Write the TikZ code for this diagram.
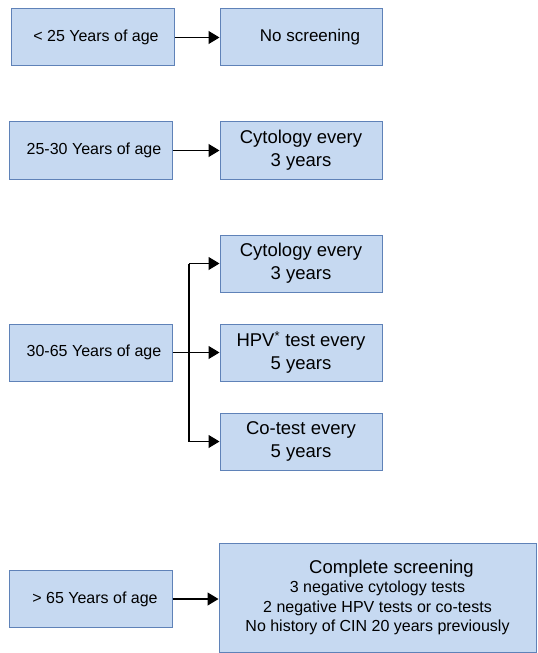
\documentclass[tikz,border=0pt]{standalone}
\usepackage{fontspec}
\setmainfont{Liberation Sans}
\usetikzlibrary{arrows.meta}
\definecolor{boxfill}{HTML}{C6D9F1}
\definecolor{boxdraw}{HTML}{5F82B8}
\tikzset{
  agebox/.style={draw=boxdraw, fill=boxfill, line width=1bp, minimum width=162bp, minimum height=57bp, inner sep=0pt, align=center, font=\fontsize{16bp}{19bp}\selectfont},
  recbox/.style={draw=boxdraw, fill=boxfill, line width=1bp, minimum width=162bp, minimum height=57bp, inner sep=0pt, align=center, font=\fontsize{18.5bp}{23bp}\selectfont},
  flow/.style={line width=1.2bp, -{Triangle[length=11bp,width=13bp]}},
  flowline/.style={line width=1.2bp}
}
\begin{document}
\begin{tikzpicture}[x=1bp,y=-1bp]
\useasboundingbox (0,0) rectangle (538,653);
% left column
\node[agebox] (a1) at (93,37.5) {\hspace*{6bp}< 25 Years of age};
\node[agebox] (a2) at (91,150.5) {\hspace*{6bp}25-30 Years of age};
\node[agebox] (a3) at (91,352.5) {\hspace*{6bp}30-65 Years of age};
\node[agebox] (a4) at (91,599) {\hspace*{8bp}> 65 Years of age};
% right column
\node[recbox, font=\fontsize{17bp}{23bp}\selectfont] (r1) at (301,37.5) {\hspace*{18bp}No screening};
\node[recbox] (r2) at (301,150.5) {Cytology every\\3 years};
\node[recbox] (r3) at (301,263.5) {Cytology every\\3 years};
\node[recbox] (r4) at (301,352.5) {HPV\textsuperscript{*} test every\\5 years};
\node[recbox] (r5) at (301,441.5) {Co-test every\\5 years};
\node[draw=boxdraw, fill=boxfill, line width=1bp, minimum width=317bp, minimum height=109bp, inner sep=0pt, align=center, font=\fontsize{16bp}{19.5bp}\selectfont] (r6) at (377.5,597.5)
  {\hspace*{28bp}{\fontsize{18.5bp}{20bp}\selectfont Complete screening}\\3 negative cytology tests\\2 negative HPV tests or co-tests\\No history of CIN 20 years previously};
% connectors
\draw[flow] (a1.east) -- (r1.west);
\draw[flow] (a2.east) -- (r2.west);
\draw[flow] (a3.east) -- (r4.west);
\coordinate (j) at (189,352.5);
\draw[flowline] (j) -- (189,263.5);
\draw[flowline] (j) -- (189,441.5);
\draw[flow] (189,263.5) -- (r3.west);
\draw[flow] (189,441.5) -- (r5.west);
\draw[flow] (a4.east) -- (r6.west |- a4.east);
\end{tikzpicture}
\end{document}
